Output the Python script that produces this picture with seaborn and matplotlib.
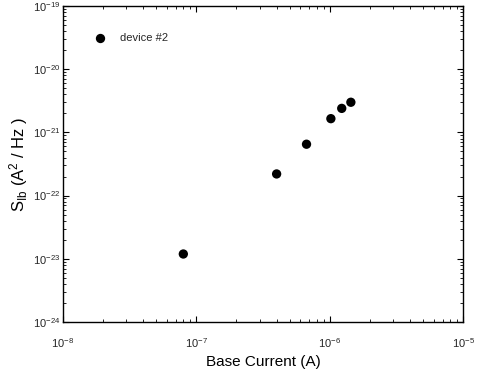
import matplotlib
matplotlib.use("Agg")
import matplotlib.pyplot as plt
import seaborn as sns
import pandas as pd
from matplotlib.ticker import LogLocator, NullFormatter

# data
base_current = [8.0e-8, 4.0e-7, 6.7e-7, 1.02e-6, 1.23e-6, 1.44e-6]
s_ib = [1.19e-23, 2.2e-22, 6.5e-22, 1.65e-21, 2.4e-21, 3.0e-21]
device = ["device #2"] * len(base_current)

df = pd.DataFrame({"Ib": base_current, "Sib": s_ib, "device": device})

sns.set_theme(style="ticks")
plt.rcParams["font.family"] = ["Liberation Sans", "DejaVu Sans"]
plt.rcParams["mathtext.fontset"] = "custom"
plt.rcParams["mathtext.rm"] = "Liberation Sans"
plt.rcParams["mathtext.it"] = "Liberation Sans"

fig = plt.figure(figsize=(4.83, 3.77), dpi=100)
ax = fig.add_axes([0.130, 0.146, 0.829, 0.838])

sns.scatterplot(data=df, x="Ib", y="Sib", hue="device", palette=["black"],
                s=45, edgecolor="black", linewidth=0, ax=ax)

ax.set_xscale("log")
ax.set_yscale("log")
ax.set_xlim(1e-8, 1e-5)
ax.set_ylim(1e-24, 1e-19)

ax.xaxis.set_major_locator(LogLocator(base=10, numticks=10))
ax.yaxis.set_major_locator(LogLocator(base=10, numticks=10))
ax.xaxis.set_minor_locator(LogLocator(base=10, subs=range(2, 10), numticks=20))
ax.yaxis.set_minor_locator(LogLocator(base=10, subs=range(2, 10), numticks=20))
ax.xaxis.set_minor_formatter(NullFormatter())
ax.yaxis.set_minor_formatter(NullFormatter())

ax.tick_params(which="both", direction="in", top=True, right=True, labelsize=8,
               color="black")
ax.tick_params(which="major", length=4, width=0.8)
ax.tick_params(which="minor", length=2, width=0.6)
ax.tick_params(axis="x", pad=10)
ax.tick_params(axis="y", pad=2)
for sp in ax.spines.values():
    sp.set_color("black")
    sp.set_linewidth(1.0)

ax.set_xlabel("Base Current (A)", fontsize=11, color="black", labelpad=4)
ax.set_ylabel(r"S$_{\mathregular{Ib}}$ (A$^{\mathregular{2}}$ / Hz )", fontsize=12,
              color="black", labelpad=2)

leg = ax.legend(loc="upper left", frameon=False, fontsize=8, handletextpad=0.8,
                bbox_to_anchor=(0.04, 0.945), markerscale=1.0)
leg.set_title(None)

plt.savefig("out.png", dpi=100)
